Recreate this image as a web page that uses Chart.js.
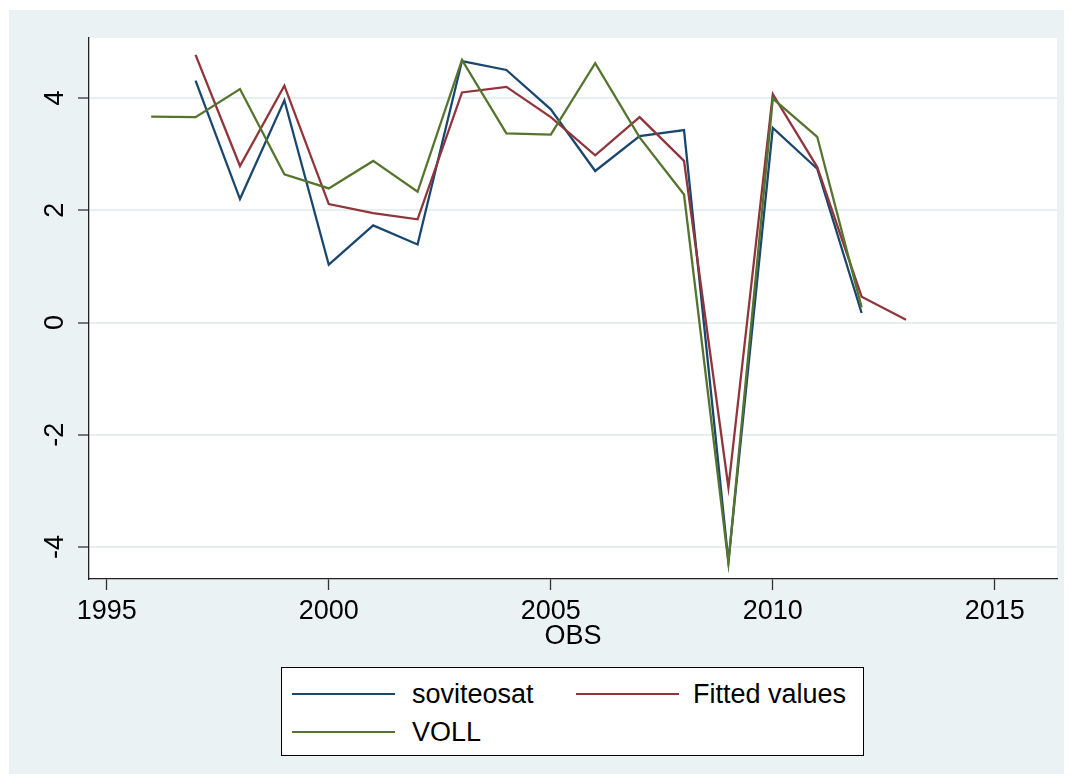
<!DOCTYPE html>
<html>
<head>
<meta charset="utf-8">
<script src="https://cdn.jsdelivr.net/npm/chart.js@4.4.1/dist/chart.umd.min.js"></script>
<style>
  body { margin: 0; background: #fff; }
  #wrap { position: absolute; left: 9px; top: 10px; width: 1055px; height: 764px; background: #eaf2f3; }
  #myChart { position: absolute; left: 0; top: 0; }
  #legend {
    position: absolute; left: 272px; top: 657px; width: 581px; height: 87px;
    border: 1px solid #000; background: #fff;
    font-family: "Liberation Sans", Arial, sans-serif; font-size: 27px; color: #000;
  }
  .item { position: absolute; height: 30px; line-height: 30px; white-space: nowrap; }
  .swatch { position: absolute; top: 14px; height: 2px; width: 103px; }
  .lbl { position: absolute; top: 0; }
</style>
</head>
<body>
<div id="wrap">
  <canvas id="myChart" width="1055" height="764"></canvas>
  <div id="legend"></div>
</div>
<script>
// years on the x axis
var years = [1996, 1997, 1998, 1999, 2000, 2001, 2002, 2003, 2004, 2005, 2006, 2007, 2008, 2009, 2010, 2011, 2012, 2013];
var soviteosat = [null, 4.31, 2.20, 3.96, 1.03, 1.73, 1.39, 4.66, 4.50, 3.80, 2.70, 3.32, 3.43, -4.26, 3.47, 2.74, 0.17, null];
var fitted = [null, 4.77, 2.79, 4.22, 2.11, 1.95, 1.84, 4.10, 4.20, 3.66, 2.98, 3.66, 2.88, -2.94, 4.07, 2.77, 0.46, 0.05];
var voll = [3.67, 3.66, 4.16, 2.64, 2.39, 2.88, 2.33, 4.68, 3.37, 3.35, 4.62, 3.30, 2.28, -4.28, 3.99, 3.31, 0.27, null];
var xTicks = [1995, 2000, 2005, 2010, 2015];
var yTicks = [-4, -2, 0, 2, 4];

var seriesNames = ["soviteosat", "Fitted values", "VOLL"];
var seriesColors = ["#1a476f", "#90353b", "#55752f"];

function pts(vals) {
  return years.map(function (yr, i) { return { x: yr, y: vals[i] }; });
}

var FONT = "'Liberation Sans', Arial, sans-serif";

// white plot region
var plotBg = {
  id: "plotBg",
  beforeDraw: function (chart) {
    var a = chart.chartArea, c = chart.ctx;
    c.save();
    c.fillStyle = "#ffffff";
    c.fillRect(a.left, a.top, a.right - a.left, a.bottom - a.top);
    c.restore();
  }
};

var ctx = document.getElementById("myChart").getContext("2d");
var myChart = new Chart(ctx, {
  type: "line",
  data: {
    datasets: [
      { label: seriesNames[0], data: pts(soviteosat), borderColor: seriesColors[0], order: 3 },
      { label: seriesNames[1], data: pts(fitted), borderColor: seriesColors[1], order: 2 },
      { label: seriesNames[2], data: pts(voll), borderColor: seriesColors[2], order: 1 }
    ]
  },
  options: {
    responsive: false,
    animation: false,
    layout: { padding: { top: 28, right: 7, bottom: 105, left: 0 } },
    elements: {
      line: { borderWidth: 2.3, tension: 0, fill: false },
      point: { radius: 0, hoverRadius: 0 }
    },
    plugins: {
      legend: { display: false },
      tooltip: { enabled: false }
    },
    scales: {
      x: {
        type: "linear",
        min: 1994.6,
        max: 2016.4,
        afterBuildTicks: function (s) { s.ticks = xTicks.map(function (v) { return { value: v }; }); },
        afterFit: function (s) { s.height = 90; },
        grid: { drawOnChartArea: false, drawTicks: true, tickLength: 11, tickColor: "#333", tickWidth: 1.3 },
        border: { color: "#222", width: 1.3 },
        ticks: {
          color: "#000", padding: 5,
          font: { family: FONT, size: 27 },
          callback: function (v) { return String(v); }
        },
        title: {
          display: true, text: "OBS", color: "#000",
          font: { family: FONT, size: 27 },
          padding: { top: 0, bottom: 16 }
        }
      },
      y: {
        min: -4.57,
        max: 5.07,
        afterBuildTicks: function (s) { s.ticks = yTicks.map(function (v) { return { value: v }; }); },
        afterFit: function (s) { s.width = 80; },
        grid: { color: "#e6eff1", lineWidth: 2, drawTicks: true, tickLength: 11, tickColor: "#333", tickWidth: 1.3 },
        border: { color: "#222", width: 1.3 },
        ticks: {
          color: "#000", padding: 10,
          minRotation: 90, maxRotation: 90,
          crossAlign: "center",
          font: { family: FONT, size: 27 }
        }
      }
    }
  },
  plugins: [plotBg]
});

// legend box (two columns, Stata style)
var legendPos = [
  { sx: 10, tx: 130, y: 11 },
  { sx: 294, tx: 411, y: 11 },
  { sx: 10, tx: 130, y: 49 }
];
var legend = document.getElementById("legend");
seriesNames.forEach(function (name, i) {
  var p = legendPos[i];
  var item = document.createElement("div");
  item.className = "item";
  item.style.left = "0px";
  item.style.top = p.y + "px";
  var sw = document.createElement("div");
  sw.className = "swatch";
  sw.style.left = p.sx + "px";
  sw.style.background = seriesColors[i];
  var lb = document.createElement("div");
  lb.className = "lbl";
  lb.style.left = p.tx + "px";
  lb.textContent = name;
  item.appendChild(sw);
  item.appendChild(lb);
  legend.appendChild(item);
});
</script>
</body>
</html>
